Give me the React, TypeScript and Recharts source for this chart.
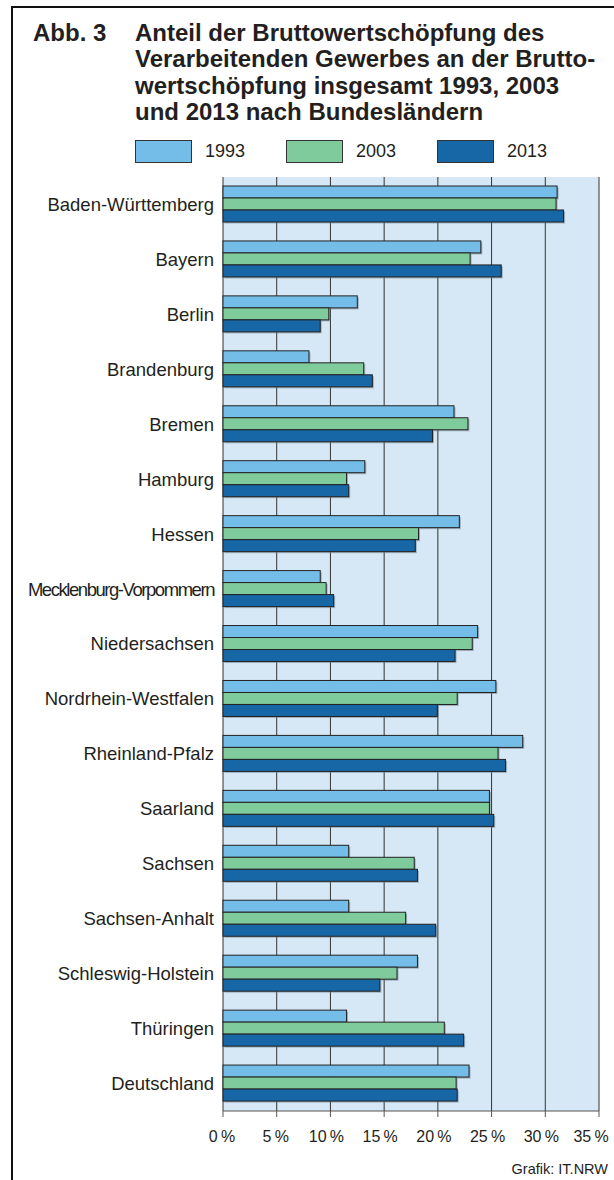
import React from 'react';
import { BarChart, Bar, XAxis, YAxis, CartesianGrid } from 'recharts';

const states = [
  'Baden-Württemberg', 'Bayern', 'Berlin', 'Brandenburg', 'Bremen', 'Hamburg', 'Hessen',
  'Mecklenburg-Vorpommern', 'Niedersachsen', 'Nordrhein-Westfalen', 'Rheinland-Pfalz',
  'Saarland', 'Sachsen', 'Sachsen-Anhalt', 'Schleswig-Holstein', 'Thüringen', 'Deutschland',
];
const v1993 = [31.1, 24.0, 12.5, 8.0, 21.5, 13.2, 22.0, 9.05, 23.7, 25.4, 27.9, 24.8, 11.7, 11.7, 18.1, 11.5, 22.9];
const v2003 = [31.0, 23.0, 9.85, 13.1, 22.8, 11.5, 18.2, 9.6, 23.2, 21.8, 25.6, 24.8, 17.8, 17.0, 16.2, 20.6, 21.7];
const v2013 = [31.7, 25.9, 9.05, 13.9, 19.5, 11.7, 17.9, 10.3, 21.6, 19.95, 26.3, 25.2, 18.1, 19.8, 14.6, 22.4, 21.8];
const xTicks = [0, 5, 10, 15, 20, 25, 30, 35];

const series = [
  { key: 'y1993', name: '1993', color: '#74bde8' },
  { key: 'y2003', name: '2003', color: '#80cb9b' },
  { key: 'y2013', name: '2013', color: '#1766a6' },
];

const data = states.map((s, i) => ({ state: s, y1993: v1993[i], y2003: v2003[i], y2013: v2013[i] }));

const FONT = '"Liberation Sans", Arial, sans-serif';
const TEXT = '#231f20';

// bar with dark outline and a little grey drop shadow
const ShadowBar = (props: any) => {
  const { x, y, width, height, fill } = props;
  if (!width) return null;
  return (
    <g>
      <rect x={x + 1.5} y={y + 1.5} width={width} height={height} fill="#6f7f8c" opacity={0.55} />
      <rect x={x} y={y} width={width} height={height} fill={fill} stroke="#222" strokeWidth={1} />
    </g>
  );
};

const StateTick = (props: any) => {
  const { x, y, payload } = props;
  const long = payload.value.length > 20;
  return (
    <text x={x} y={y} dy="0.35em" textAnchor="end" fill={TEXT} fontSize={18.5} fontFamily={FONT}
      letterSpacing={long ? -1.45 : 0}>
      {payload.value}
    </text>
  );
};

const PctTick = (props: any) => {
  const { x, y, payload } = props;
  const v = payload.value;
  const dx = v === 35 ? -8 : v >= 10 ? -4 : -1;
  return (
    <text x={x + dx} y={y} dy="0.71em" textAnchor="middle" fill={TEXT} fontSize={16} fontFamily={FONT}>
      {`${v}\u2009%`}
    </text>
  );
};

export default function App() {
  return (
    <div style={{ position: 'absolute', left: 0, top: 0, width: 614, height: 1180, overflow: 'hidden', background: '#fff' }}>
      <div style={{ position: 'absolute', left: 11, top: 6, width: 700, height: 1300, border: '2.5px solid #111' }} />
      <div style={{ position: 'absolute', left: 33, top: 20, fontFamily: FONT, fontWeight: 'bold', fontSize: 24, lineHeight: '26.3px', color: TEXT }}>
        Abb. 3
      </div>
      <div style={{ position: 'absolute', left: 135, top: 20, width: 475, fontFamily: FONT, fontWeight: 'bold', fontSize: 24, lineHeight: '26.3px', color: TEXT }}>
        Anteil der Bruttowertschöpfung des<br />
        Verarbeitenden Gewerbes an der Brutto-<br />
        wertschöpfung insgesamt 1993, 2003<br />
        und 2013 nach Bundesländern
      </div>
      {series.map((s, i) => (
        <div key={s.key} style={{ position: 'absolute', left: 135 + i * 151, top: 140, display: 'flex', alignItems: 'center', fontFamily: FONT, fontSize: 18, color: TEXT }}>
          <span style={{ width: 55, height: 21, background: s.color, border: '1px solid #333', display: 'inline-block' }} />
          <span style={{ marginLeft: 13 }}>{s.name}</span>
        </div>
      ))}
      <div style={{ position: 'absolute', left: 0, top: 0 }}>
        <BarChart
          width={614}
          height={1180}
          data={data}
          layout="vertical"
          margin={{ top: 177, right: 15, bottom: 29, left: 0 }}
          barCategoryGap={9}
          barGap={0}
        >
          <CartesianGrid horizontal={false} stroke="#333" fill="#d6e8f5" fillOpacity={1} />
          <XAxis
            type="number"
            domain={[0, 35]}
            ticks={xTicks}
            height={40}
            stroke="#555"
            tickSize={6}
            tickMargin={14}
            tick={<PctTick />}
          />
          <YAxis
            type="category"
            dataKey="state"
            width={223}
            axisLine={false}
            tickLine={false}
            tickSize={0}
            tickMargin={9}
            interval={0}
            tick={<StateTick />}
          />
          {series.map((s) => (
            <Bar key={s.key} dataKey={s.key} name={s.name} fill={s.color} shape={<ShadowBar />} isAnimationActive={false} />
          ))}
        </BarChart>
      </div>
      <div style={{ position: 'absolute', right: 6, top: 1161, fontFamily: FONT, fontSize: 14.5, color: TEXT }}>
        Grafik: IT.NRW
      </div>
    </div>
  );
}
